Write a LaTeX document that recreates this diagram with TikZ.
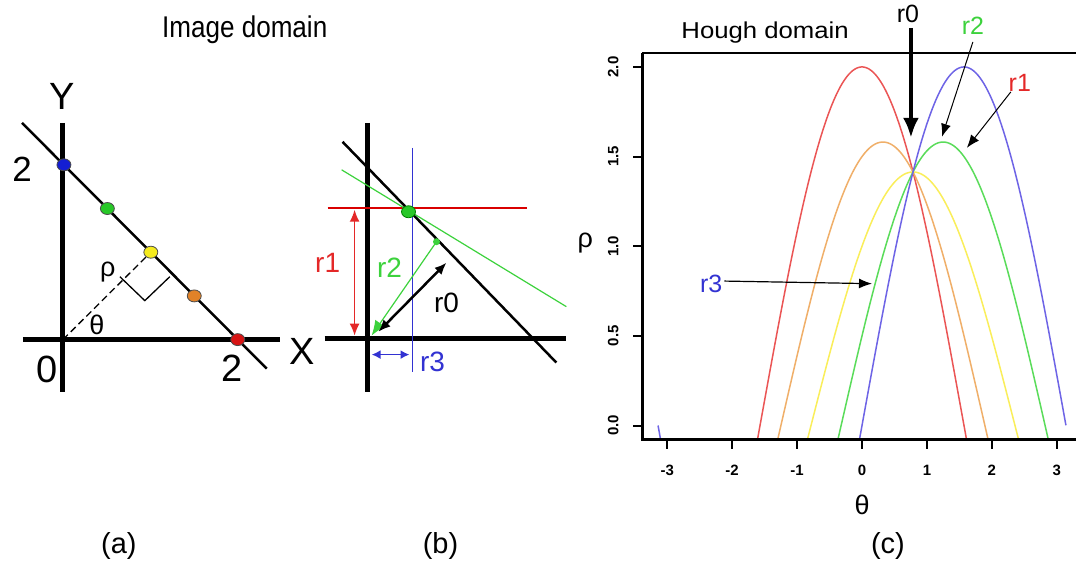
\documentclass[tikz,border=0pt]{standalone}
\usepackage{fontspec}
\setmainfont{Liberation Sans}
\newfontfamily\condfont[FakeStretch=0.87]{Liberation Sans}
\newfontfamily\widefont[FakeStretch=1.12]{Liberation Sans}
\usepackage{tikz}
\usetikzlibrary{arrows.meta,positioning,calc}
\usepackage{xcolor}
\definecolor{ptBlue}{RGB}{20,30,210}
\definecolor{ptGreen}{RGB}{40,200,40}
\definecolor{ptYellow}{RGB}{245,235,30}
\definecolor{ptOrange}{RGB}{225,130,40}
\definecolor{ptRed}{RGB}{215,20,20}
\definecolor{cvRed}{RGB}{235,85,85}
\definecolor{cvOrange}{RGB}{240,175,105}
\definecolor{cvYellow}{RGB}{250,238,90}
\definecolor{cvGreen}{RGB}{90,220,90}
\definecolor{cvBlue}{RGB}{110,100,230}
\definecolor{lbRed}{RGB}{228,40,40}
\definecolor{lbGreen}{RGB}{60,210,60}
\definecolor{lbBlue}{RGB}{50,50,210}

\begin{document}
\begin{tikzpicture}[x=1pt,y=-1pt,
  thickax/.style={line width=5pt},
  txt/.style={inner sep=0pt,anchor=base},
  bigtxt/.style={txt,font=\fontsize{38}{40}\selectfont},
  midtxt/.style={txt,font=\fontsize{28}{30}\selectfont},
  smtxt/.style={txt,font=\fontsize{25}{27}\selectfont},
  ticktxt/.style={inner sep=0pt,font=\bfseries\fontsize{15}{17}\selectfont},
  dd/.style={{Latex[length=12pt,width=10pt]}-{Latex[length=12pt,width=10pt]}},
  hd/.style={-{Latex[length=13pt,width=10pt]}}]
\fill[white] (0,0) rectangle (1077,565);
\node[txt,font=\condfont\fontsize{30}{32}\selectfont] (imgdom) at (245,38) {Image domain};
\node[txt,font=\widefont\fontsize{23}{25}\selectfont] (houghdom) at (766,39) {Hough domain};
%% (a)
\coordinate (Oa) at (63,340);
\draw[thickax] (63,123) -- (63,392);
\draw[thickax] (23,340) -- (280,340);
\draw[line width=2.5pt] (22,123) -- (267,369);
\foreach \t/\col [count=\i] in {0/ptBlue,0.25/ptGreen,0.5/ptYellow,0.75/ptOrange,1/ptRed}{
  \coordinate (dot\i) at ($(64,165)!\t!(238,340)$);}
\draw[dash pattern=on 7pt off 4pt,line width=1.3pt] (Oa) -- (dot3);
\foreach \col [count=\i] in {ptBlue,ptGreen,ptYellow,ptOrange,ptRed}{
  \draw[draw=black!70,line width=0.8pt,fill=\col] (dot\i) ellipse [x radius=7,y radius=6];}
\draw[line width=1.3pt] (120,277) -- (145,301) -- (170,277);
\node[bigtxt] (lY) at (62,110) {Y};
\node[bigtxt] (lX) at (303,365) {X};
\node[bigtxt,font=\fontsize{35}{37}\selectfont] (l2y) at (22,182) {2};
\node[bigtxt] (l0) at (47,383) {0};
\node[bigtxt] (l2x) at (232,382) {2};
\node[txt,font=\fontsize{27}{29}\selectfont] (lrho) at (108,277) {ρ};
\node[txt,font=\fontsize{27}{29}\selectfont] (ltheta) at (97,335) {θ};
%% (b)
\draw[thickax] (368,123) -- (368,392);
\draw[thickax] (325,339) -- (567,339);
\draw[line width=2.5pt] (343,142) -- (557,363);
\draw[lbBlue,line width=1.3pt] (413,148) -- (413,372);
\draw[red!85!black,line width=1.8pt] (328,208.5) -- (528,208.5);
\draw[lbGreen,line width=1.2pt] (342,170) -- (567,307);
\coordinate (gdot) at (409,212);
\draw[draw=green!50!black,line width=0.8pt,fill=ptGreen] (gdot) ellipse [x radius=7,y radius=6];
\coordinate (Ob) at (372,336);
\coordinate (foot) at (437,242);
\fill[lbGreen] (foot) circle (3.5);
\draw[dd,lbRed,line width=1.5pt] (355,210) coordinate (r1top) -- (355,336) coordinate (r1bot);
\draw[lbGreen,line width=1.2pt,-{Latex[length=15pt,width=12pt]}] (foot) -- (Ob);
\draw[dd,line width=2.5pt] (447,263) coordinate (r0top) -- (379,332) coordinate (r0bot);
\draw[{Latex[length=9pt,width=9pt]}-{Latex[length=9pt,width=9pt]},lbBlue,line width=1.8pt] (372,355) coordinate (r3l) -- (410,355) coordinate (r3r);
\node[midtxt,lbRed] (br1) at (328,273) {r1};
\node[midtxt,lbGreen] (br2) at (390,278) {r2};
\node[midtxt] (br0) at (447,313) {r0};
\node[midtxt,lbBlue] (br3) at (433,372) {r3};
%% (c)
\begin{scope}
\clip (643,53) rectangle (1077,440);
\begin{scope}[shift={(863,426)},x=65pt,y=179.5pt]
\foreach \pa/\pb/\col in {2/0/cvRed,1.5/0.5/cvOrange,1/1/cvYellow,0.5/1.5/cvGreen,0/2/cvBlue}
  \draw[\col,line width=1.5pt] plot[domain=-3.1416:3.1416,samples=200,smooth] (\x,{\pa*cos(\x r)+\pb*sin(\x r)});
\end{scope}
\end{scope}
\draw[line width=2pt] (1077,53) -- (643,53);
\draw[line width=2.5pt] (643,53) -- (643,440) -- (1077,440);
\foreach \tv in {-3,...,3}{
  \draw[line width=2pt] (863+65*\tv,440) -- (863+65*\tv,450);
  \node[ticktxt] (xt\tv) at (863+65*\tv,471) {\tv};}
\foreach \rv in {0.0,0.5,1.0,1.5,2.0}{
  \draw[line width=2pt] (643,426-179.5*\rv) -- (634,426-179.5*\rv);
  \node[ticktxt,rotate=90] (yt\rv) at (614,426-179.5*\rv) {\rv};}
\node[inner sep=0pt,font=\fontsize{27}{29}\selectfont] (crho) at (586,243) {ρ};
\node[inner sep=0pt,font=\fontsize{27}{29}\selectfont] (ctheta) at (863,505) {θ};
\node[smtxt] (cr0) at (909,23) {r0};
\node[smtxt,lbGreen] (cr2) at (974,35) {r2};
\node[smtxt,lbRed] (cr1) at (1021,92) {r1};
\node[smtxt,lbBlue] (cr3) at (712,293) {r3};
\coordinate (tip0) at (912,138);
\coordinate (tip2) at (943,137);
\coordinate (tip1) at (968,148);
\coordinate (tip3) at (873,284);
\draw[line width=4pt,-{Latex[length=20pt,width=16pt]}] (912,28) -- (tip0);
\draw[line width=1pt,hd] (974,42) -- (tip2);
\draw[line width=1pt,hd] (1012,92) -- (tip1);
\draw[line width=1.2pt,hd] (cr3.east) ++(2,-3) -- (tip3);
%% captions
\node[txt,font=\fontsize{29}{31}\selectfont] (capa) at (119,554) {(a)};
\node[txt,font=\fontsize{29}{31}\selectfont] (capb) at (441,554) {(b)};
\node[txt,font=\fontsize{29}{31}\selectfont] (capc) at (889,554) {(c)};
\end{tikzpicture}
\end{document}
